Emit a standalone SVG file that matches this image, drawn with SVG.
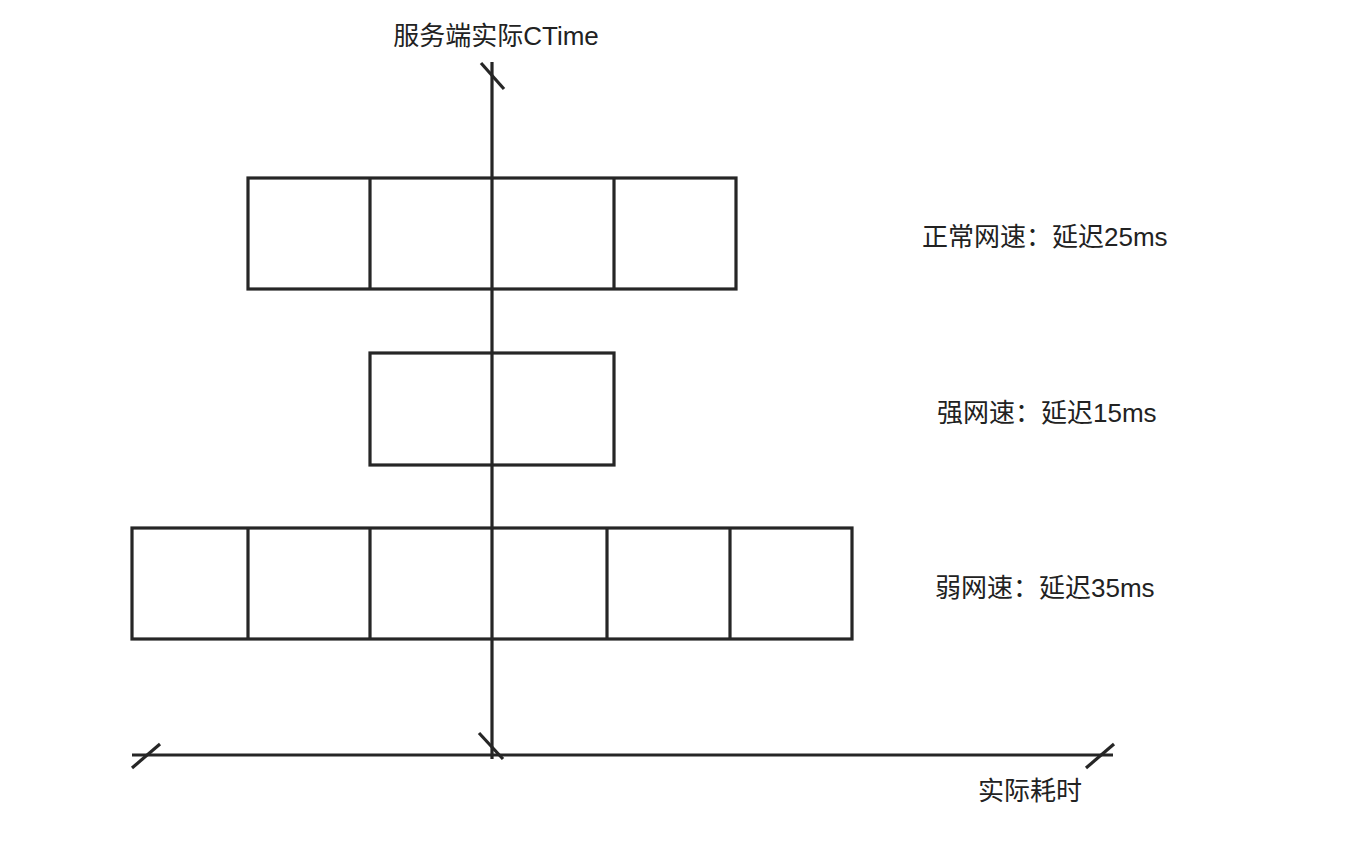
<svg xmlns="http://www.w3.org/2000/svg" width="1360" height="848" viewBox="0 0 1360 848">
<style>
.s{fill:none;stroke:#262626;stroke-width:3.2}
.t{font-family:"Liberation Sans","Noto Sans CJK SC",sans-serif;font-size:26px;fill:#222}
</style>
<rect width="1360" height="848" fill="#ffffff"/>
<g id="row-normal">
<rect class="s" x="248" y="178" width="488" height="111"/>
<line class="s" x1="370" y1="178" x2="370" y2="289"/>
<line class="s" x1="614" y1="178" x2="614" y2="289"/>
</g>
<g id="row-strong">
<rect class="s" x="370" y="353" width="244" height="112"/>
</g>
<g id="row-weak">
<rect class="s" x="132" y="528" width="720" height="111"/>
<line class="s" x1="248" y1="528" x2="248" y2="639"/>
<line class="s" x1="370" y1="528" x2="370" y2="639"/>
<line class="s" x1="607" y1="528" x2="607" y2="639"/>
<line class="s" x1="730" y1="528" x2="730" y2="639"/>
</g>
<g id="axes">
<line class="s" x1="492" y1="62" x2="492" y2="759"/>
<line class="s" x1="132" y1="755" x2="1113" y2="755"/>
<line class="s" x1="481" y1="63" x2="504" y2="89"/>
<line class="s" x1="479" y1="733" x2="503" y2="759"/>
<line class="s" x1="132" y1="768" x2="160" y2="744"/>
<line class="s" x1="1086" y1="768" x2="1114" y2="744"/>
</g>
<g id="labels">
<text class="t" x="496" y="45" text-anchor="middle">服务端实际CTime</text>
<text class="t" x="922" y="246">正常网速：延迟25ms</text>
<text class="t" x="937" y="422">强网速：延迟15ms</text>
<text class="t" x="935" y="597">弱网速：延迟35ms</text>
<text class="t" x="1030" y="800" text-anchor="middle">实际耗时</text>
</g>
</svg>
